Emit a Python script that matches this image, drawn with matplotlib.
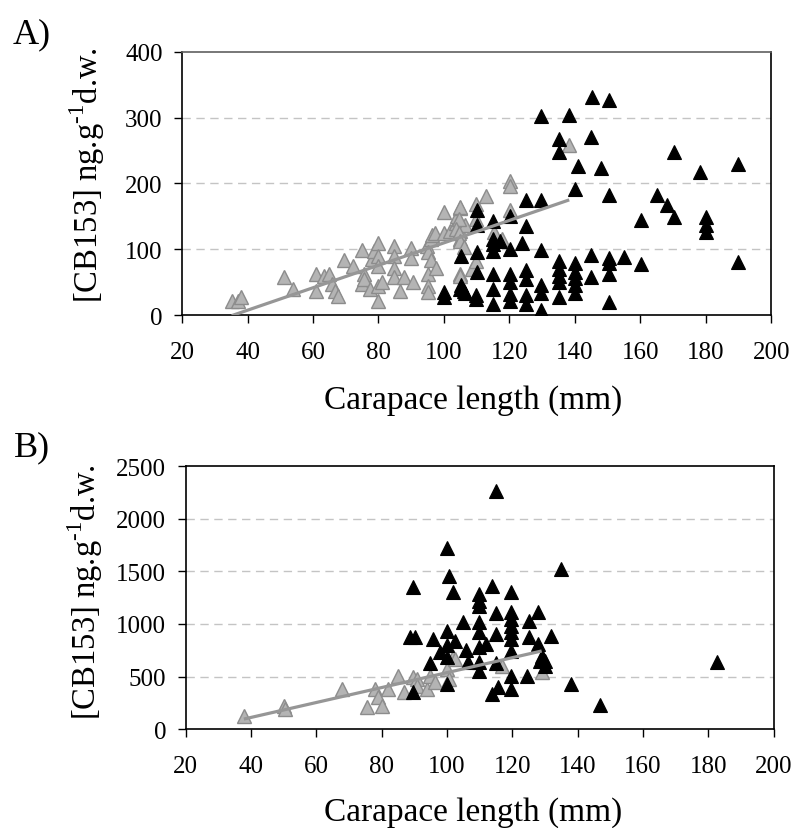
import matplotlib
matplotlib.use("Agg")
import matplotlib.pyplot as plt

plt.rcParams["font.family"] = ["Liberation Serif", "DejaVu Serif"]
plt.rcParams["mathtext.fontset"] = "custom"
plt.rcParams["mathtext.rm"] = "Liberation Serif"

# ── A) juveniles (gris) y adultos (negro) ──────────────────────────────────
a_gray_len = [35.2, 37, 38, 51, 54, 61, 61, 63.3, 64.8, 65.8, 66.8, 67.8,
              69.4, 72.2, 75, 75, 75.5, 75.5, 77.5, 78, 78.5, 79.8, 80, 80,
              80, 80, 81, 84.7, 84.7, 84.7, 84.7, 86.7, 87.7, 90, 90, 90.6,
              94.9, 96, 95, 96, 95, 95, 95, 96.4, 97.4, 97.5, 100, 100,
              102, 103.6, 104, 105, 105, 105, 105, 106.6, 105, 104.6, 103.6, 104.6,
              105, 106, 109.7, 109.7, 108.7, 109.7, 105, 113, 115.3, 117.9,
              120.2, 120.2, 120.2, 138.3]
a_gray_cb = [22, 22, 28, 57, 40, 62, 37, 60, 62, 47, 37, 29,
             83, 75, 99, 47, 62, 55, 40, 85, 97, 110, 89, 75,
             44, 22, 50, 105, 90, 72, 57, 37, 57, 102, 87, 50,
             105, 115, 95, 83, 62, 44, 35, 122, 125, 72, 156, 125,
             128, 140, 150, 162, 128, 115, 62, 137, 164, 146, 131, 125,
             112, 103, 169, 146, 70, 82, 60, 181, 126, 115,
             204, 196, 160, 258]

a_black_len = [145.2, 150.5, 129.8, 138.3, 135.2, 135.2, 145.1, 141, 148, 170.4,
               178.4, 190, 140.1, 150.5, 125, 129.6, 110, 120.2, 115.1, 110,
               125, 160.2, 165.1, 168.2, 170.4, 180.2, 180.2, 180.2, 190, 115.1,
               115.1, 115.1, 117.2, 120.2, 124, 105.1, 110, 129.6, 110, 115.1,
               120.2, 125, 125, 120.2, 105.1, 106, 109.7, 109.7, 115.1, 115.1,
               120.2, 120.2, 125, 125, 129.6, 129.6, 129.6, 135.2, 135.2, 135.2,
               135.2, 135.2, 140.1, 140.1, 140.1, 140.1, 140.1, 145.1, 145.1, 150.5,
               150.5, 150.5, 150.5, 155.1, 160.2, 100, 100, 105, 106.5]
a_black_cb = [331, 327, 302, 304, 268, 248, 270, 226, 223, 247,
              217, 230, 191, 182, 175, 174, 159, 151, 143, 137,
              135, 145, 182, 167, 149, 149, 136, 126, 80, 116,
              108, 98, 113, 100, 110, 90, 95, 99, 65, 62,
              62, 68, 55, 50, 45, 37, 30, 25, 40, 17,
              32, 22, 30, 17, 45, 34, 8, 82, 70, 60,
              50, 27, 79, 65, 56, 46, 34, 91, 57, 87,
              79, 62, 20, 88, 78, 34.5, 27, 40, 34]

# recta de regresión de los juveniles: (pendiente, ordenada)
a_trend = (1.705, -60.9)

# ── B) ─────────────────────────────────────────────────────────────────────
b_gray_len = [37.8, 50.1, 50.4, 67.8, 75.6, 78, 79, 80, 82, 84.9, 86.8, 89.7,
              90.7, 90.7, 93.8, 94.8, 96.3, 99.9, 100.6, 101.9, 102.5, 116.7, 129]
b_gray_cb = [127, 222, 194, 381, 206, 381, 302, 222, 381, 508, 349, 492,
             476, 413, 381, 508, 444, 571, 476, 683, 667, 603, 540]

b_black_len = [89.7, 99.9, 100.5, 101.9, 105, 88.7, 90.2, 95.6, 99.9, 102.5,
               97.8, 99.9, 99.9, 94.8, 105.8, 106.5, 89.7, 99.9, 114.9, 134.8,
               113.7, 119.6, 109.9, 109.9, 109.9, 127.9, 114.9, 119.6, 119.6, 119.6,
               119.6, 119.6, 119.6, 109.9, 109.9, 114.9, 125.1, 125.1, 131.8, 111.9,
               109.9, 127.9, 128.5, 130, 130, 129, 109.9, 109.9, 114.9, 119.6,
               124.6, 119.6, 115.7, 113.7, 137.9, 147, 182.6]
b_black_cb = [1349, 1721, 1460, 1308, 1022, 873, 873, 860, 937, 841,
              733, 797, 686, 629, 749, 635, 352, 429, 2270, 1524,
              1365, 1302, 1286, 1222, 1175, 1117, 1105, 1111, 1048, 984,
              921, 857, 746, 1022, 921, 905, 1025, 873, 889, 810,
              778, 810, 651, 651, 603, 698, 635, 556, 629, 508,
              508, 381, 397, 333, 432, 229, 635]

b_trend = (7.11, -174.0)

GRAY_FILL = "#b4b4b4"
GRAY_EDGE = "#8c8c8c"
LINE_GRAY = "#969696"
YLABEL = r"[CB153] ng.g$^{\text{-1}}$d.w."


def draw_panel(ax, gx, gy, bx, by, trend, ymax, ystep):
    ax.plot(gx, gy, "^", ms=10.5, mfc=GRAY_FILL, mec=GRAY_EDGE, mew=1.0,
            ls="none", zorder=3)
    ax.plot(bx, by, "^", ms=10.5, mfc="black", mec="black", mew=0.8,
            ls="none", zorder=4)
    x0, x1 = min(gx), max(gx)
    m, c = trend
    ax.plot([x0, x1], [m * x0 + c, m * x1 + c], color=LINE_GRAY, lw=2.3,
            solid_capstyle="butt", zorder=5)

    ax.set_xlim(20, 200)
    ax.set_ylim(0, ymax)
    ax.set_xticks(range(20, 201, 20))
    ax.set_yticks(range(0, ymax + 1, ystep))
    for v in range(ystep, ymax, ystep):
        ax.axhline(v, color="#c4c4c4", lw=1.0, ls=(0, (6, 4)), zorder=1)

    for s in ax.spines.values():
        s.set_color("black")
        s.set_linewidth(1.2)
    ax.tick_params(axis="both", direction="out", length=6, width=1.0,
                   labelsize=18, color="black")
    ax.tick_params(axis="x", pad=12.5)
    ax.tick_params(axis="y", pad=8)
    ax.set_xlabel("Carapace length (mm)", fontsize=24)
    ax.xaxis.label.set_va("baseline")
    ax.set_ylabel(YLABEL, fontsize=23.5)


fig = plt.figure(figsize=(7.95, 8.29), dpi=100)
ax_a = fig.add_axes([0.229, 0.6188, 0.741, 0.3176])
ax_b = fig.add_axes([0.2336, 0.1194, 0.7394, 0.3167])

draw_panel(ax_a, a_gray_len, a_gray_cb, a_black_len, a_black_cb, a_trend, 400, 100)
draw_panel(ax_b, b_gray_len, b_gray_cb, b_black_len, b_black_cb, b_trend, 2500, 500)
ax_a.spines["top"].set_color("#606060")

ax_a.yaxis.set_label_coords(-0.128, 0.535)
ax_b.yaxis.set_label_coords(-0.138, 0.526)
ax_a.xaxis.set_label_coords(0.4946, -0.353)
ax_b.xaxis.set_label_coords(0.489, -0.3467)

fig.text(0.016, 0.948, "A)", fontsize=26, va="baseline", ha="left")
fig.text(0.018, 0.45, "B)", fontsize=26, va="baseline", ha="left")

fig.savefig("out.png", dpi=100)
